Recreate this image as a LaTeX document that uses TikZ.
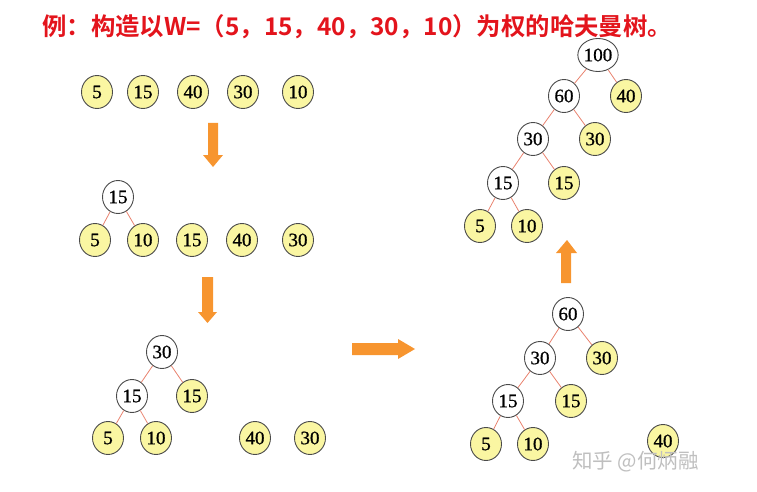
\documentclass[tikz,border=0pt]{standalone}
\usepackage{fontspec}
\setmainfont{Liberation Serif}
\newfontfamily\numf[FakeBold=0.8]{Liberation Serif}
\newfontfamily\cjkb[BoldFont=Noto Sans CJK SC Bold]{Noto Sans CJK SC}
\usetikzlibrary{shapes.geometric}
\definecolor{leafc}{HTML}{FAF6A2}
\definecolor{edgec}{HTML}{E9826E}
\definecolor{arrc}{HTML}{F7952F}
\definecolor{titlec}{HTML}{E3141C}
\definecolor{rimc}{HTML}{4A4A4A}
\begin{document}
\begin{tikzpicture}[x=1pt,y=-1pt,
  nd/.style={ellipse,draw=rimc,line width=0.9pt,minimum width=31pt,minimum height=33pt,inner sep=0pt,font=\numf\fontsize{19}{19}\selectfont},
  leaf/.style={nd,fill=leafc},
  inner/.style={nd,fill=white},
  ed/.style={draw=edgec,line width=0.8pt},
  blockarrow/.style={fill=arrc,draw=none}]
\useasboundingbox (0,0) rectangle (757,492);
% title
\node[anchor=west,text=titlec,inner sep=0pt,font=\cjkb\bfseries\fontsize{24.4}{25}\selectfont] (title) at (42,27) {例：构造以W=（5，15，40，30，10）为权的哈夫曼树。};
% row 1
\node[leaf] (a1) at (97,92) {5};
\node[leaf] (a2) at (143,92) {15};
\node[leaf] (a3) at (193,92) {40};
\node[leaf] (a4) at (243,92) {30};
\node[leaf] (a5) at (298,92) {10};
% arrow 1
\fill[blockarrow] (208,123) -- (218,123) -- (218,155) -- (223,155) -- (213,167) -- (203,155) -- (208,155) -- cycle;
% stage 2
\node[inner] (b0) at (118,197) {15};
\node[leaf] (b1) at (95,240) {5};
\node[leaf] (b2) at (143,240) {10};
\node[leaf] (b3) at (192,240) {15};
\node[leaf] (b4) at (242,240) {40};
\node[leaf] (b5) at (298,240) {30};
\draw[ed] (b0) -- (b1);
\draw[ed] (b0) -- (b2);
% arrow 2
\fill[blockarrow] (202,277) -- (213,277) -- (213,312) -- (217,312) -- (207.5,323) -- (198,312) -- (202,312) -- cycle;
% stage 3
\node[inner] (c0) at (162,352) {30};
\node[inner] (c1) at (132,396) {15};
\node[leaf] (c2) at (192,396) {15};
\node[leaf] (c3) at (108,438) {5};
\node[leaf] (c4) at (156,438) {10};
\node[leaf] (c5) at (255,438) {40};
\node[leaf] (c6) at (310,438) {30};
\draw[ed] (c0) -- (c1);
\draw[ed] (c0) -- (c2);
\draw[ed] (c1) -- (c3);
\draw[ed] (c1) -- (c4);
% arrow right
\fill[blockarrow] (352,343) -- (398,343) -- (398,339) -- (415,349) -- (398,359) -- (398,355) -- (352,355) -- cycle;
% stage 4
\node[inner] (d0) at (568,314) {60};
\node[inner] (d1) at (540,358) {30};
\node[leaf] (d2) at (602,358) {30};
\node[inner] (d3) at (508,401) {15};
\node[leaf] (d4) at (571,401) {15};
\node[leaf] (d5) at (486,444) {5};
\node[leaf] (d6) at (533,444) {10};
\node[leaf] (d7) at (663,441) {40};
\draw[ed] (d0) -- (d1);
\draw[ed] (d0) -- (d2);
\draw[ed] (d1) -- (d3);
\draw[ed] (d1) -- (d4);
\draw[ed] (d3) -- (d5);
\draw[ed] (d3) -- (d6);
% arrow up
\fill[blockarrow] (561,283) -- (571,283) -- (571,253) -- (577,253) -- (567,240) -- (556,253) -- (561,253) -- cycle;
% stage 5
\node[inner] (e0) at (598,55) {100};
\node[inner] (e1) at (564,96) {60};
\node[leaf] (e2) at (626,96) {40};
\node[inner] (e3) at (533,139) {30};
\node[leaf] (e4) at (595,139) {30};
\node[inner] (e5) at (503,183) {15};
\node[leaf] (e6) at (564,183) {15};
\node[leaf] (e7) at (480,226) {5};
\node[leaf] (e8) at (527,226) {10};
\draw[ed] (e0) -- (e1);
\draw[ed] (e0) -- (e2);
\draw[ed] (e1) -- (e3);
\draw[ed] (e1) -- (e4);
\draw[ed] (e3) -- (e5);
\draw[ed] (e3) -- (e6);
\draw[ed] (e5) -- (e7);
\draw[ed] (e5) -- (e8);
% watermark
\node[anchor=west,text=black!25,inner sep=0pt,font=\cjkb\fontsize{20.5}{21}\selectfont] (wm) at (572,462) {知乎 @何炳融};
\end{tikzpicture}
\end{document}
